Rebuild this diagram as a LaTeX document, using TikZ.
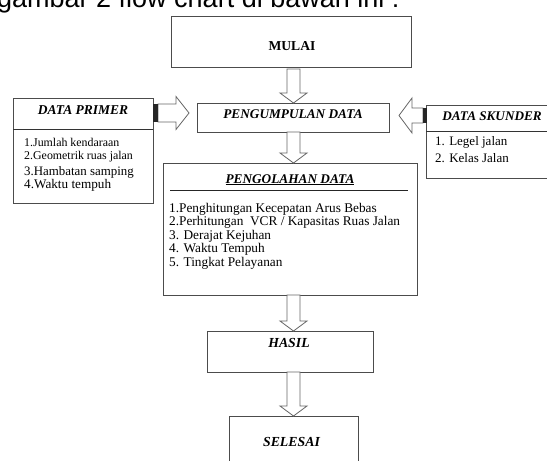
\documentclass[tikz,border=0pt]{standalone}
\usepackage{fontspec}
\setmainfont{Liberation Serif}
\newfontfamily\arialf{Liberation Sans}
\usetikzlibrary{calc}
\tikzset{
  box/.style={draw=black!70, line width=0.9pt, fill=white, inner sep=0pt, outer sep=0pt},
  ttl/.style={font=\fontsize{13.5}{14}\selectfont\bfseries\itshape, anchor=base, inner sep=0pt},
  itm/.style={anchor=base west, inner sep=0pt},
  olahitm/.style={anchor=base west, inner sep=0pt, font=\fontsize{13.3}{13}\selectfont},
  blk/.style={draw=black!60, line width=0.8pt, fill=white, line join=miter},
  stub/.style={fill=black!85, draw=none},
}
\newcommand\varrowblk[3]{%
  \draw[blk] let \p1=#1, \p2=#2 in
   (\x2-6.5pt,\y1) -- (\x2-6.5pt,\y2+#3) -- (\x2-13.5pt,\y2+#3) -- (\x2,\y2)
   -- (\x2+13.5pt,\y2+#3) -- (\x2+6.5pt,\y2+#3) -- (\x2+6.5pt,\y1) -- cycle;}
\begin{document}
\begin{tikzpicture}[x=1pt,y=-1pt]
\useasboundingbox (0,0) rectangle (547,461);
\clip (0,0) rectangle (547,461);
\fill[white] (0,0) rectangle (547,461);

\node[anchor=base west, inner sep=0pt, font=\arialf\fontsize{27}{27}\selectfont] (cap) at (-3,7) {gambar 2 flow chart di bawah ini :};

% boxes
\node[box, minimum width=240pt, minimum height=51pt] (mulai) at (291,41.5) {};
\node[box, minimum width=140pt, minimum height=105pt] (primer) at (83,150.5) {};
\node[box, minimum width=192pt, minimum height=29pt] (kumpul) at (293,117.5) {};
\node[box, minimum width=134pt, minimum height=73pt] (skunder) at (493,141.5) {};
\node[box, minimum width=254pt, minimum height=132pt] (olah) at (290,229) {};
\node[box, minimum width=166pt, minimum height=41pt] (hasil) at (290,351.5) {};
\node[box, minimum width=129pt, minimum height=59pt] (selesai) at (293.5,445.5) {};

% header separators
\draw[black!80, line width=0.9pt] ($(primer.north west)+(0,31)$) -- ($(primer.north east)+(0,31)$);
\draw[black!80, line width=0.9pt] ($(skunder.north west)+(0,26)$) -- ($(skunder.north east)+(0,26)$);
\draw[black!85, line width=0.9pt] ($(olah.north west)+(7,27)$) -- ($(olah.north east)+(-9,27)$);

% titles
\node[ttl, font=\fontsize{13.6}{14}\selectfont\bfseries] (tmulai) at (292,50) {MULAI};
\node[ttl] (tprimer) at (83,114) {DATA PRIMER};
\node[ttl, font=\fontsize{13.2}{14}\selectfont\bfseries\itshape] (tskunder) at (492,120) {DATA SKUNDER};
\node[ttl, font=\fontsize{13.3}{14}\selectfont\bfseries\itshape] (tkumpul) at (293,118) {PENGUMPULAN DATA};
\node[ttl, font=\fontsize{13.3}{14}\selectfont\bfseries\itshape] (tolah) at (290,183) {\underline{PENGOLAHAN DATA}};
\node[ttl, font=\fontsize{13.8}{14}\selectfont\bfseries\itshape] (thasil) at (289,347) {HASIL};
\node[ttl, font=\fontsize{13.8}{14}\selectfont\bfseries\itshape] (tselesai) at (291.5,446) {SELESAI};

% lists
\node[itm, font=\fontsize{11.9}{12}\selectfont] (p1) at (24,146) {1.Jumlah kendaraan};
\node[itm, font=\fontsize{11.9}{12}\selectfont] (p2) at (24,159.5) {2.Geometrik ruas jalan};
\node[itm, font=\fontsize{12.9}{13}\selectfont] (p3) at (24,175) {3.Hambatan samping};
\node[itm, font=\fontsize{13.2}{13}\selectfont] (p4) at (24,188.5) {4.Waktu tempuh};

\node[itm, font=\fontsize{13}{13}\selectfont] (s1) at (435,145) {1. Legel jalan};
\node[itm, font=\fontsize{13}{13}\selectfont] (s2) at (435,162) {2. Kelas Jalan};

\node[olahitm] (o1) at (169,212) {1.Penghitungan Kecepatan Arus Bebas};
\node[olahitm] (o2) at (169,225.5) {2.Perhitungan\ \ VCR / Kapasitas Ruas Jalan};
\node[olahitm] (o3) at (169,239) {3. Derajat Kejuhan};
\node[olahitm] (o4) at (169,252.5) {4. Waktu Tempuh};
\node[olahitm] (o5) at (169,266) {5. Tingkat Pelayanan};

% block arrows (vertical)
\coordinate (ax) at (293.5,0);
\varrowblk{($(mulai.south)+(0,2)$)}{(ax |- kumpul.north)}{10pt}
\varrowblk{(kumpul.south)}{(ax |- olah.north)}{10pt}
\varrowblk{(olah.south)}{(ax |- hasil.north)}{10pt}
\varrowblk{(hasil.south)}{(ax |- selesai.north)}{10pt}

% left arrow: DATA PRIMER -> PENGUMPULAN
\coordinate (ltail) at ($(primer.north east)+(0,15)$);
\coordinate (ltip) at ($(kumpul.west)+(-8,-4.5)$);
\draw[blk] let \p1=(ltail), \p2=(ltip) in
  (\x1+5pt,\y1+9pt) -- (\x2-13pt,\y1+9pt) -- (\x2-13pt,\y1+16.5pt) -- (\x2,\y2)
  -- (\x2-13pt,\y1-16.5pt) -- (\x2-13pt,\y1-9pt) -- (\x1+5pt,\y1-9pt) -- cycle;
\fill[stub] let \p1=(ltail) in (\x1,\y1+9pt) rectangle (\x1+5pt,\y1-9pt);

% right arrow: DATA SKUNDER -> PENGUMPULAN
\coordinate (rtail) at ($(skunder.north west)+(1,10.5)$);
\coordinate (rtip) at ($(kumpul.east)+(10,-2)$);
\draw[blk] let \p1=(rtail), \p2=(rtip) in
  (\x1-4pt,\y1+7.5pt) -- (\x2+13pt,\y1+7.5pt) -- (\x2+13pt,\y1+17.5pt) -- (\x2,\y2)
  -- (\x2+13pt,\y1-17.5pt) -- (\x2+13pt,\y1-7.5pt) -- (\x1-4pt,\y1-7.5pt) -- cycle;
\fill[stub] let \p1=(rtail) in (\x1-4pt,\y1+7.5pt) rectangle (\x1,\y1-7.5pt);
\end{tikzpicture}
\end{document}
